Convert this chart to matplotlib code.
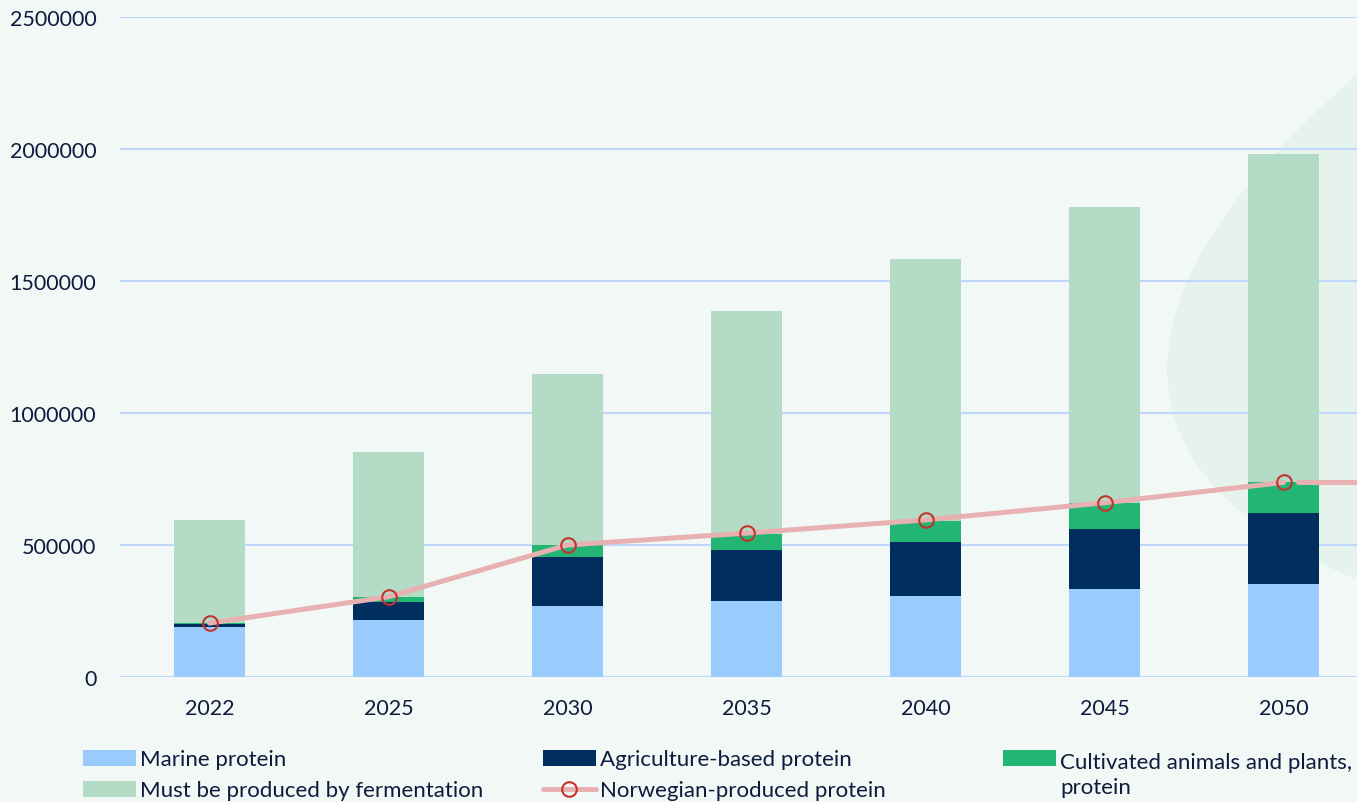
import matplotlib
matplotlib.use("Agg")
import matplotlib.pyplot as plt
from matplotlib.patches import Rectangle
from matplotlib.lines import Line2D
import numpy as np

plt.rcParams['font.family'] = ['Lato', 'DejaVu Sans']

# protein supply by year (tonnes), stacked
years = ['2022', '2025', '2030', '2035', '2040', '2045', '2050']
marine = [190000, 217000, 268000, 287000, 307000, 332000, 352000]
agriculture = [9000, 68000, 187000, 195000, 206000, 230000, 269000]
cultivated = [5000, 18000, 45000, 60000, 78000, 98000, 116000]
fermentation = [390000, 549000, 648000, 845000, 992000, 1120000, 1244000]
norwegian = [204000, 304000, 500000, 545000, 595000, 660000, 737000]

legend_labels = ['Marine protein', 'Agriculture-based protein',
                 'Cultivated animals and plants,\nprotein',
                 'Must be produced by fermentation', 'Norwegian-produced protein']

c_marine = '#99ccfd'
c_agri = '#002f5f'
c_cult = '#23b574'
c_ferm = '#b3dbc6'
c_line = '#e8b1b1'
c_mark = '#c3332e'
c_text = '#0e1b3d'
bg = '#f2f8f5'

W, H = 1357, 803
fig = plt.figure(figsize=(W / 100, H / 100), dpi=100, facecolor=bg)

# decorative leaf shape in the background (pixel space): fit a conic
# through a few outline points and fill its inside
bga = fig.add_axes([0, 0, 1, 1], zorder=0)
bga.set_xlim(0, W)
bga.set_ylim(H, 0)
bga.axis('off')
leaf = np.array([(1357, 77), (1280, 150), (1188, 282), (1169, 367),
                 (1172, 414), (1195, 460), (1227, 500), (1357, 580)], float)
lx = (leaf[:, 0] - 1260) / 100
ly = (leaf[:, 1] - 330) / 100
M = np.column_stack([lx**2, lx * ly, ly**2, lx, ly, np.ones_like(lx)])
coef = np.linalg.svd(M)[2][-1]

def conic(px, py):
    u = (px - 1260) / 100
    v = (py - 330) / 100
    return (coef[0] * u**2 + coef[1] * u * v + coef[2] * v**2
            + coef[3] * u + coef[4] * v + coef[5])

gx, gy = np.meshgrid(np.linspace(1000, W, 400), np.linspace(0, H, 500))
val = conic(gx, gy) * np.sign(conic(1300, 330))
bga.contourf(gx, gy, val, levels=[0, np.inf], colors=['#e6f3ec'])

ax = fig.add_axes([120 / W, (H - 678) / H, 1253 / W, 660 / H], zorder=1)
ax.set_facecolor('none')

x = np.arange(len(years))
bw = 0.40
b1 = np.array(marine)
b2 = b1 + np.array(agriculture)
b3 = b2 + np.array(cultivated)
ax.bar(x, marine, bw, color=c_marine, zorder=2)
ax.bar(x, agriculture, bw, bottom=b1, color=c_agri, zorder=2)
ax.bar(x, cultivated, bw, bottom=b2, color=c_cult, zorder=2)
ax.bar(x, fermentation, bw, bottom=b3, color=c_ferm, zorder=2)

ax.plot(x, norwegian, color=c_line, lw=3.6, zorder=3, solid_capstyle='round')
ax.plot([x[-1] + 0.08, x[-1] + 0.6], [norwegian[-1]] * 2, color=c_line, lw=3.6,
        zorder=3, solid_capstyle='round')
ax.plot(x, norwegian, ls='none', marker='o', ms=10.5, mfc='none', mec=c_mark,
        mew=1.5, zorder=4)

ax.set_xlim(-0.5, 6.5)
ax.set_ylim(0, 2500000)
ax.set_yticks(np.arange(0, 2500001, 500000))
ax.set_yticklabels([str(v) for v in range(0, 2500001, 500000)])
ax.set_xticks(x)
ax.set_xticklabels(years)
ax.tick_params(length=0, labelsize=15.5, labelcolor=c_text)
ax.tick_params(axis='y', pad=17)
ax.tick_params(axis='x', pad=15)
ax.grid(axis='y', color='#bfd7fc', lw=1.5, zorder=0)
ax.set_axisbelow(True)
for s in ax.spines.values():
    s.set_visible(False)

# legend laid out in three columns
def fx(px):
    return px / W

def fy(py):
    return 1 - py / H

handles = [('patch', c_marine, 83, 759), ('patch', c_agri, 543, 759),
           ('patch', c_cult, 1003, 759), ('patch', c_ferm, 83, 790),
           ('line', None, 543, 790)]
for (kind, col, hx, hy), lab in zip(handles, legend_labels):
    if kind == 'patch':
        fig.add_artist(Rectangle((fx(hx), fy(hy + 8)), fx(53), 16 / H,
                                 transform=fig.transFigure, facecolor=col,
                                 edgecolor='none'))
    else:
        fig.add_artist(Line2D([fx(hx), fx(hx + 53)], [fy(hy)] * 2,
                              transform=fig.transFigure, color=c_line, lw=3.6,
                              solid_capstyle='round'))
        fig.add_artist(Line2D([fx(hx + 26)], [fy(hy)], transform=fig.transFigure,
                              ls='none', marker='o', ms=10.5, mfc='none',
                              mec=c_mark, mew=1.5))
    nl = lab.count('\n')
    fig.text(fx(hx + 57), fy(hy + 15.5 * nl + 1), lab, fontsize=16,
             color=c_text, va='center', ha='left', linespacing=1.3)

fig.savefig('out.png', dpi=100, facecolor=bg)
